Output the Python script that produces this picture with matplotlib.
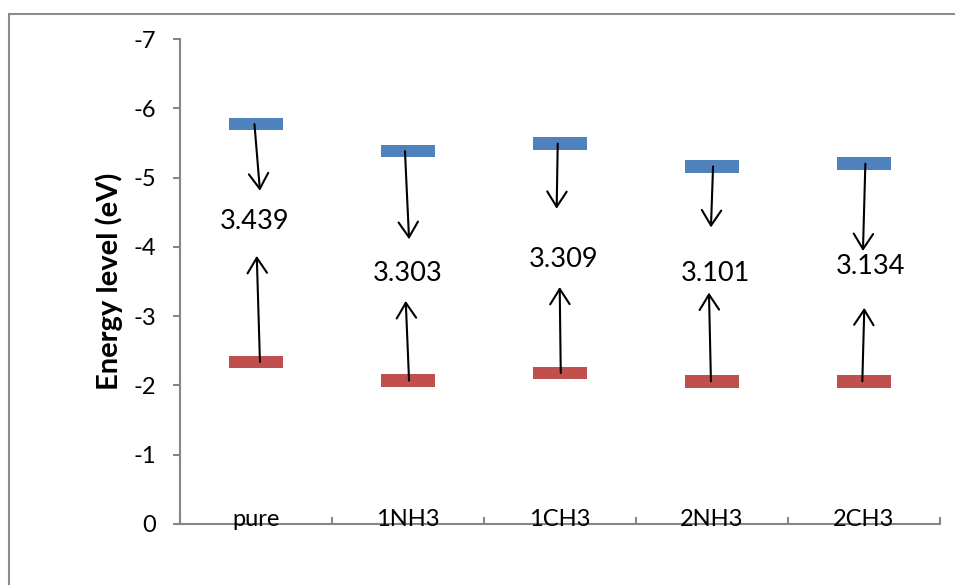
import numpy as np
import matplotlib
matplotlib.use('Agg')
import matplotlib.pyplot as plt
from matplotlib.patches import Rectangle, FancyArrowPatch

plt.rcParams['font.family'] = ['Lato', 'DejaVu Sans']
plt.rcParams['axes.unicode_minus'] = False

systems = ['pure', '1NH3', '1CH3', '2NH3', '2CH3']
homo = [-5.77, -5.38, -5.49, -5.16, -5.20]   # blue levels
lumo = [-2.34, -2.07, -2.18, -2.06, -2.06]   # red levels
gaps = ['3.439', '3.303', '3.309', '3.101', '3.134']

# hand drawn arrows / labels in the original (data units, offsets from category)
down_x0 = [-0.01, -0.02, -0.015, 0.007, 0.009]
down_x1 = [0.026, 0.007, -0.022, -0.007, -0.007]
down_tip = [-4.81, -4.11, -4.55, -4.28, -3.94]
up_x0 = [0.026, 0.007, 0.005, -0.007, -0.011]
up_x1 = [0.005, -0.015, -0.002, -0.020, 0.002]
up_tip = [-3.87, -3.22, -3.42, -3.34, -3.12]
label_x = [-0.007, -0.002, 0.022, 0.020, 0.046]
label_y = [-4.36, -3.62, -3.82, -3.61, -3.71]

blue = '#4F81BD'
red = '#C0504D'
grey = '#868686'

fig = plt.figure(figsize=(9.55, 5.85), dpi=100)
ax = fig.add_axes([180 / 955, 1 - 524 / 585, 760 / 955, 485 / 585])

x = np.arange(len(systems))
bw = 0.36
bh = 0.18
for i in x:
    ax.add_patch(Rectangle((i - bw / 2, homo[i] - bh / 2), bw, bh,
                           facecolor=blue, edgecolor='none', zorder=2))
    ax.add_patch(Rectangle((i - bw / 2, lumo[i] - bh / 2), bw, bh,
                           facecolor=red, edgecolor='none', zorder=2))
    a1 = FancyArrowPatch((i + down_x0[i], homo[i]), (i + down_x1[i], down_tip[i]),
                         arrowstyle='->,head_length=11,head_width=7', mutation_scale=1,
                         color='black', lw=1.5, shrinkA=0, shrinkB=0, zorder=3)
    a2 = FancyArrowPatch((i + up_x0[i], lumo[i]), (i + up_x1[i], up_tip[i]),
                         arrowstyle='->,head_length=11,head_width=7', mutation_scale=1,
                         color='black', lw=1.5, shrinkA=0, shrinkB=0, zorder=3)
    ax.add_patch(a1)
    ax.add_patch(a2)
    ax.text(i + label_x[i], label_y[i], gaps[i], ha='center', va='center', fontsize=19.5)
    ax.text(i, -0.07, systems[i], ha='center', va='center', fontsize=17)

ax.set_xlim(-0.5, 4.5)
ax.set_ylim(0, -7)
ax.set_yticks(range(-7, 1))
ax.set_yticklabels([str(v) for v in range(-7, 1)], fontsize=17)
ax.set_xticks(np.arange(-0.5, 5, 1))
ax.set_xticklabels([])
ax.tick_params(axis='y', direction='out', length=5, width=1.5, color=grey, pad=12)
ax.tick_params(axis='x', direction='in', length=5, width=1.5, color=grey)
for s in ['top', 'right']:
    ax.spines[s].set_visible(False)
for s in ['left', 'bottom']:
    ax.spines[s].set_color(grey)
    ax.spines[s].set_linewidth(1.5)
ax.set_ylabel('Energy level (eV)', fontsize=21, fontweight='bold', labelpad=8)

# chart frame
fig.patches.append(Rectangle((9 / 955, -0.1), 1.2, 1.1 - 14 / 585, transform=fig.transFigure,
                             fill=False, edgecolor='#8C8C8C', lw=1.5))

fig.savefig('out.png', dpi=100)
